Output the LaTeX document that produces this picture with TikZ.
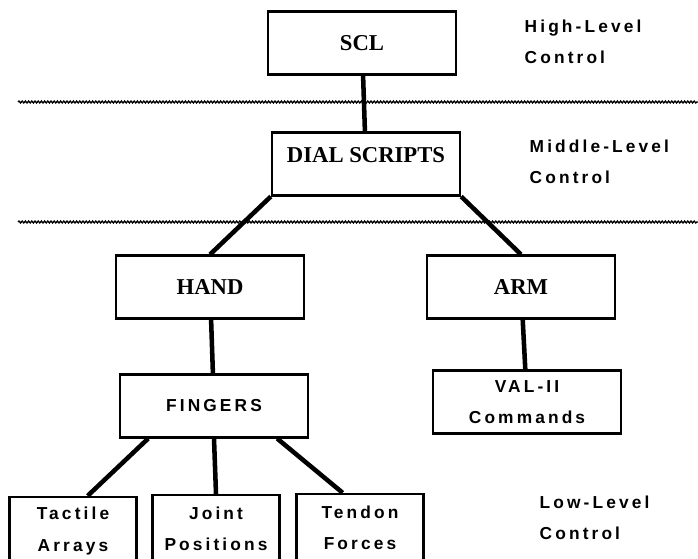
\documentclass[tikz,border=0pt]{standalone}
\usepackage{fontspec}
\setmainfont{Liberation Serif}
\newfontfamily\spacedfont[LetterSpace=18]{Liberation Sans}
\usepackage{tikz}
\usetikzlibrary{decorations.pathmorphing}

\begin{document}
\begin{tikzpicture}[x=0.75pt, y=-0.75pt,
    box/.style={rectangle, draw, line width=1.8pt, minimum width=141pt, minimum height=47pt, align=center, inner sep=0pt},
    leaf/.style={box, minimum width=95pt, minimum height=51pt},
    bigtext/.style={font=\fontsize{17}{19}\selectfont\bfseries},
    smalltext/.style={font=\spacedfont\bfseries\fontsize{13}{23.5}\selectfont},
    link/.style={line width=3.4pt},
    level/.style={decorate, decoration={snake, amplitude=0.7pt, segment length=2.4pt}, line width=1pt}
  ]

    \clip (0,0) rectangle (698,558);

    % level separators
    \draw[level] (18,102) -- (698,102);
    \draw[level] (18,222) -- (698,222);

    \node[box, bigtext] (scl) at (362,43) {SCL};
    \node[box, bigtext, text depth=13pt] (dial) at (366,164) {DIAL SCRIPTS};
    \node[box, bigtext] (hand) at (210,287) {HAND};
    \node[box, bigtext] (arm) at (521,287) {ARM};
    \node[box, smalltext] (fingers) at (214,406) {FINGERS};
    \node[box, smalltext] (val) at (527,402) {VAL-II\\Commands};

    \node[leaf, smalltext] (tactile) at (73,531) {Tactile\\Arrays};
    \node[leaf, smalltext] (joint) at (216,529) {Joint\\Positions};
    \node[leaf, smalltext] (tendon) at (360,528) {Tendon\\Forces};

    \draw[link] (scl) -- (dial);
    \draw[link] (dial.south west) -- (hand.north);
    \draw[link] (dial.south east) -- (arm.north);
    \draw[link] (hand) -- (fingers);
    \draw[link] (arm) -- (val);
    \draw[link] ([xshift=22pt]fingers.south west) -- ([xshift=11pt]tactile.north);
    \draw[link] (fingers.south) -- (joint.north);
    \draw[link] ([xshift=-24pt]fingers.south east) -- ([xshift=-13pt]tendon.north);

    \node[smalltext, anchor=west, align=left] (highlbl) at (520,42) {High-Level\\Control};
    \node[smalltext, anchor=west, align=left] (midlbl) at (525,162) {Middle-Level\\Control};
    \node[smalltext, anchor=west, align=left] (lowlbl) at (535,518) {Low-Level\\Control};

  \end{tikzpicture}
\end{document}
